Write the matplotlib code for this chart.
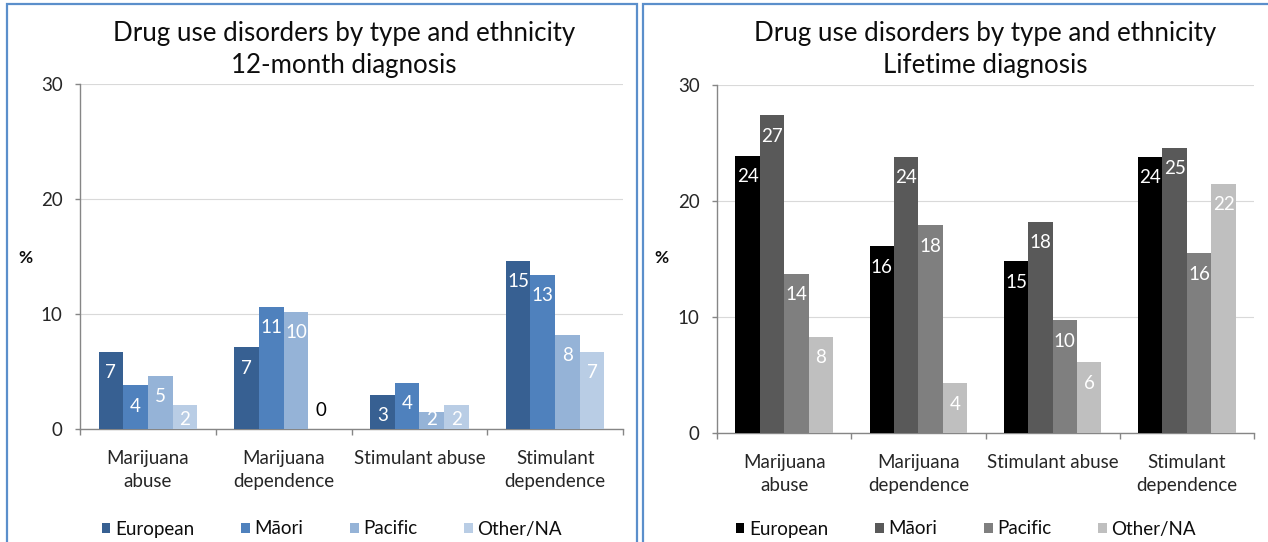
import matplotlib
matplotlib.use("Agg")
import matplotlib.pyplot as plt
from matplotlib.patches import Rectangle, Patch
import numpy as np

plt.rcParams['font.family'] = ['Lato', 'DejaVu Sans']

categories = ["Marijuana\nabuse", "Marijuana\ndependence", "Stimulant abuse", "Stimulant\ndependence"]
groups = ["European", "Māori", "Pacific", "Other/NA"]

# 12-month diagnosis (%), by ethnicity
month12_european = [6.7, 7.1, 3.0, 14.6]
month12_maori = [3.8, 10.6, 4.0, 13.4]
month12_pacific = [4.6, 10.2, 1.5, 8.2]
month12_other = [2.1, 0.0, 2.1, 6.7]

# Lifetime diagnosis (%), by ethnicity
life_european = [23.9, 16.1, 14.8, 23.8]
life_maori = [27.4, 23.8, 18.2, 24.6]
life_pacific = [13.7, 17.9, 9.7, 15.5]
life_other = [8.3, 4.3, 6.1, 21.5]

titles = [("Drug use disorders by type and ethnicity", "12-month diagnosis"),
          ("Drug use disorders by type and ethnicity", "Lifetime diagnosis")]
yticks = [0, 10, 20, 30]

blue_palette = ["#376092", "#4F81BD", "#95B3D7", "#B9CDE5"]
grey_palette = ["#000000", "#595959", "#7F7F7F", "#BFBFBF"]

W, H = 1268, 542
fig = plt.figure(figsize=(W / 100, H / 100), dpi=100)


def px_box(x0, y0, x1, y1):
    return [x0 / W, 1 - y1 / H, (x1 - x0) / W, (y1 - y0) / H]


# panel frames
border = "#5B8FCB"
for x0, x1 in [(7, 637), (643, 1290)]:
    fig.add_artist(Rectangle((x0 / W, -0.05), (x1 - x0) / W, 1.05 - 4 / H,
                             transform=fig.transFigure, fill=False,
                             edgecolor=border, linewidth=1.6))


def draw_panel(box, series, colors, title, title_x, pct_x, legend_x):
    ax = fig.add_axes(px_box(*box))
    n = len(series)
    bw = 1 / 5.5
    x = np.arange(len(categories))
    for i, (vals, col) in enumerate(zip(series, colors)):
        xs = x + (i - (n - 1) / 2) * bw
        ax.bar(xs, vals, width=bw, color=col, zorder=3, linewidth=0)
        for xi, v in zip(xs, vals):
            if v == 0:
                ax.text(xi, 1.65, f"{v:.0f}", ha="center", va="center",
                        fontsize=13.5, color="#000000", zorder=4)
            else:
                ax.text(xi, max(v - 1.8, 0.85), f"{v:.0f}", ha="center",
                        va="center", fontsize=13.5, color="white", zorder=4)
    ax.set_ylim(0, 30)
    ax.set_xlim(-0.5, len(categories) - 0.5)
    ax.set_yticks(yticks)
    ax.yaxis.grid(True, color="#D9D9D9", linewidth=0.8, zorder=0)
    ax.set_axisbelow(True)
    for s in ["top", "right"]:
        ax.spines[s].set_visible(False)
    for s in ["left", "bottom"]:
        ax.spines[s].set_color("#868686")
        ax.spines[s].set_linewidth(1.0)
    ax.tick_params(axis="y", direction="out", length=3.6, width=1.0,
                   color="#868686", labelsize=13.5, labelcolor="#262626", pad=9)
    ax.set_xticks(np.arange(-0.5, len(categories)))
    ax.set_xticklabels([])
    ax.tick_params(axis="x", which="major", direction="out", length=4.5,
                   width=1.0, color="#868686")
    ax.set_xticks(x, minor=True)
    ax.set_xticklabels(categories, minor=True, fontsize=13.5, color="#262626",
                       linespacing=1.45)
    ax.tick_params(axis="x", which="minor", length=0, pad=15)

    fig.text(title_x / W, 1 - 33 / H, title[0], ha="center", va="center",
             fontsize=18.6, color="#0D0D0D")
    fig.text(title_x / W, 1 - 66 / H, title[1], ha="center", va="center",
             fontsize=18.6, color="#0D0D0D")
    fig.text(pct_x / W, 1 - 258 / H, "%", ha="center", va="center",
             fontsize=12.5, fontweight="bold", color="#0D0D0D")

    handles = [Patch(facecolor=c, edgecolor="none") for c in colors]
    fig.legend(handles, groups, loc="center", ncol=4, frameon=False,
               bbox_to_anchor=(legend_x / W, 1 - 529 / H), fontsize=13.5,
               handlelength=0.45, handleheight=0.45, handletextpad=0.25,
               columnspacing=2.5, borderpad=0, labelcolor="#0D0D0D")
    return ax


draw_panel((80, 84, 623, 429),
           [month12_european, month12_maori, month12_pacific, month12_other],
           blue_palette, titles[0], 344, 25, 332)
draw_panel((717, 85, 1254, 433),
           [life_european, life_maori, life_pacific, life_other],
           grey_palette, titles[1], 985, 661, 966)

fig.savefig("out.png", dpi=100)
